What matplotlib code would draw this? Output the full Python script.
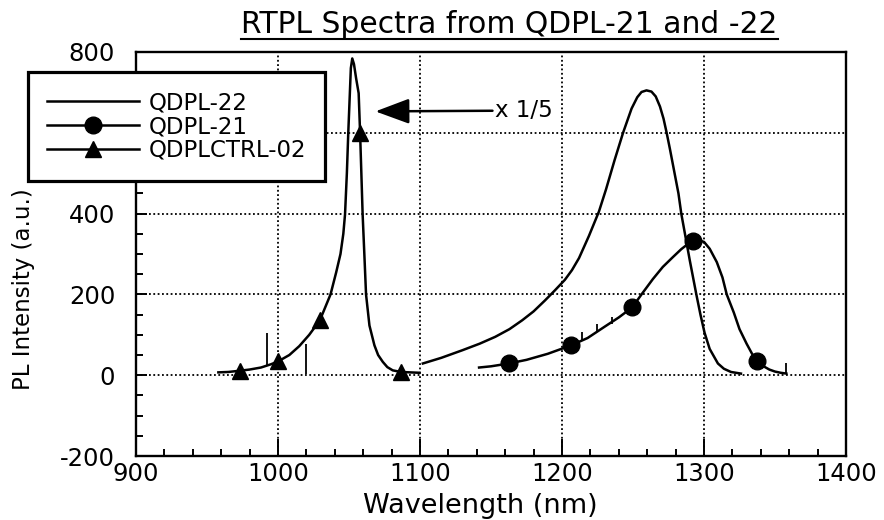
import numpy as np
import matplotlib.pyplot as plt
from matplotlib.lines import Line2D
from matplotlib.ticker import MultipleLocator

plt.rcParams['font.family'] = ['DejaVu Sans']
plt.rcParams['axes.unicode_minus'] = False

# QDPL-22, plain line
qdpl22_wl = [1102, 1115, 1130, 1142, 1153, 1163, 1172, 1180, 1188, 1195, 1202, 1207,
             1212, 1219, 1226, 1231, 1237, 1243, 1249, 1253, 1256, 1259.5, 1263, 1266,
             1269, 1271.5, 1273.7, 1276, 1279, 1282, 1284, 1287, 1290, 1294.6, 1297.5,
             1300.4, 1304, 1309.8, 1314, 1319, 1326]
qdpl22_pl = [29, 43, 62, 78, 95, 114, 136, 158, 185, 210, 236, 260,
             290, 345, 405, 460, 532, 600, 660, 688, 701, 705, 702, 690,
             665, 635, 600, 560, 505, 450, 400, 342, 284, 200, 150,
             105, 65, 29, 16, 8, 4]

# QDPL-21, line with circles
qdpl21_wl = [1141.6, 1150, 1162.6, 1175, 1190, 1206.5, 1218, 1230, 1240, 1249.5, 1256,
             1264, 1271, 1278, 1284, 1288, 1292, 1296, 1300, 1304, 1309, 1313, 1316,
             1321, 1325, 1330, 1334, 1337.5, 1342, 1346, 1350, 1354, 1358]
qdpl21_pl = [19, 22, 29, 38, 53, 74, 92, 120, 143, 168, 200,
             238, 268, 292, 312, 323, 331, 334, 330, 313, 280, 242, 200,
             155, 114, 78, 52, 34, 22, 14, 9, 6, 4]
qdpl21_mk_wl = [1162.6, 1206.5, 1249.5, 1292, 1337.5]
qdpl21_mk_pl = [29, 74, 168, 331, 34]
qdpl21_spk_wl = [1214, 1224.5, 1235, 1358]
qdpl21_spk_lo = [85, 107, 127, 4]
qdpl21_spk_hi = [108, 127, 144, 29]

# QDPLCTRL-02, line with triangles (shown x 1/5)
ctrl_wl = [958, 965, 973, 980, 988, 995, 1000, 1008, 1015, 1022, 1029.5, 1037, 1041,
           1044, 1046, 1047.2, 1048.5, 1049.5, 1050.6, 1051.3, 1052.3, 1053.5, 1055,
           1056.8, 1057.8, 1058.7, 1059.6, 1060.8, 1062, 1064.4, 1067.9, 1070.5, 1073.8,
           1077, 1080.8, 1086.6, 1093, 1099.6]
ctrl_pl = [7, 8, 11, 14, 19, 27, 34, 50, 72, 100, 136, 200, 255,
           300, 350, 398, 500, 601, 698, 760, 784, 770, 735,
           698, 601, 500, 398, 300, 200, 123, 74, 50, 33,
           20, 12, 8, 7, 6]
ctrl_mk_wl = [973, 1000, 1029.5, 1058, 1086.6]
ctrl_mk_pl = [11, 34, 136, 600, 8]
ctrl_spk_wl = [992, 1019.5]
ctrl_spk_lo = [24, 2]
ctrl_spk_hi = [104, 78]

fig = plt.figure(figsize=(8.84, 5.2), dpi=100)
ax = fig.add_axes([136 / 884, 1 - 456 / 520, 710 / 884, 404 / 520])

lw = 1.8
ax.plot(qdpl22_wl, qdpl22_pl, color='k', lw=lw)
ax.plot(qdpl21_wl, qdpl21_pl, color='k', lw=lw)
ax.plot(qdpl21_mk_wl, qdpl21_mk_pl, 'o', color='k', ms=12)
ax.vlines(qdpl21_spk_wl, qdpl21_spk_lo, qdpl21_spk_hi, color='k', lw=1.3)
ax.plot(ctrl_wl, ctrl_pl, color='k', lw=lw)
ax.plot(ctrl_mk_wl, ctrl_mk_pl, '^', color='k', ms=12)
ax.vlines(ctrl_spk_wl, ctrl_spk_lo, ctrl_spk_hi, color='k', lw=1.3)

ax.set_xlim(900, 1400)
ax.set_ylim(-200, 800)
ax.xaxis.set_major_locator(MultipleLocator(100))
ax.xaxis.set_minor_locator(MultipleLocator(20))
ax.yaxis.set_major_locator(MultipleLocator(200))
ax.yaxis.set_minor_locator(MultipleLocator(50))
ax.grid(True, which='major', color='k', linestyle=(0, (1, 1.4)), linewidth=1.3)

for s in ax.spines.values():
    s.set_linewidth(1.7)
ax.tick_params(which='both', direction='in', colors='k', width=1.4,
               top=False, right=False, labelsize=17.5)
ax.tick_params(axis='x', which='major', length=12, pad=4)
ax.tick_params(axis='y', which='major', length=8, pad=15)
ax.tick_params(which='minor', length=5)

ax.set_xlabel('Wavelength (nm)', fontsize=19.5)
ax.xaxis.set_label_coords(0.485, -0.092)
ax.set_ylabel('PL Intensity (a.u.)', fontsize=16.5)
ax.yaxis.set_label_coords(-0.142, 0.413)

ax.annotate('x 1/5', xy=(1068.6, 653), xytext=(1153, 655), fontsize=16.5,
            va='center', ha='left',
            arrowprops=dict(arrowstyle='-|>,head_length=1.05,head_width=0.39',
                            mutation_scale=20, lw=lw, color='k',
                            shrinkA=0, shrinkB=0))

handles = [Line2D([], [], color='k', lw=lw),
           Line2D([], [], color='k', lw=lw, marker='o', ms=12),
           Line2D([], [], color='k', lw=lw, marker='^', ms=12)]
leg = ax.legend(handles, ['QDPL-22', 'QDPL-21', 'QDPLCTRL-02'],
                loc='upper left', bbox_to_anchor=(28 / 884, 1 - 72 / 520),
                bbox_transform=fig.transFigure, borderaxespad=0,
                fontsize=16.5, fancybox=False, framealpha=1, edgecolor='k',
                handlelength=4.0, handletextpad=0.4, labelspacing=0.03,
                borderpad=0.85)
leg.get_frame().set_linewidth(2.3)

title = fig.text((239 + 780) / 2 / 884, 1 - 33 / 520,
                 'RTPL Spectra from QDPL-21 and -22', fontsize=21.4,
                 ha='center', va='baseline')

# underline under the title
fig.canvas.draw()
bb = title.get_window_extent()
uy = 1 - 38.5 / 520
fig.add_artist(Line2D([bb.x0 / 884, bb.x1 / 884], [uy, uy], color='k', lw=1.5,
                      transform=fig.transFigure))

fig.savefig('out.png', dpi=100)
